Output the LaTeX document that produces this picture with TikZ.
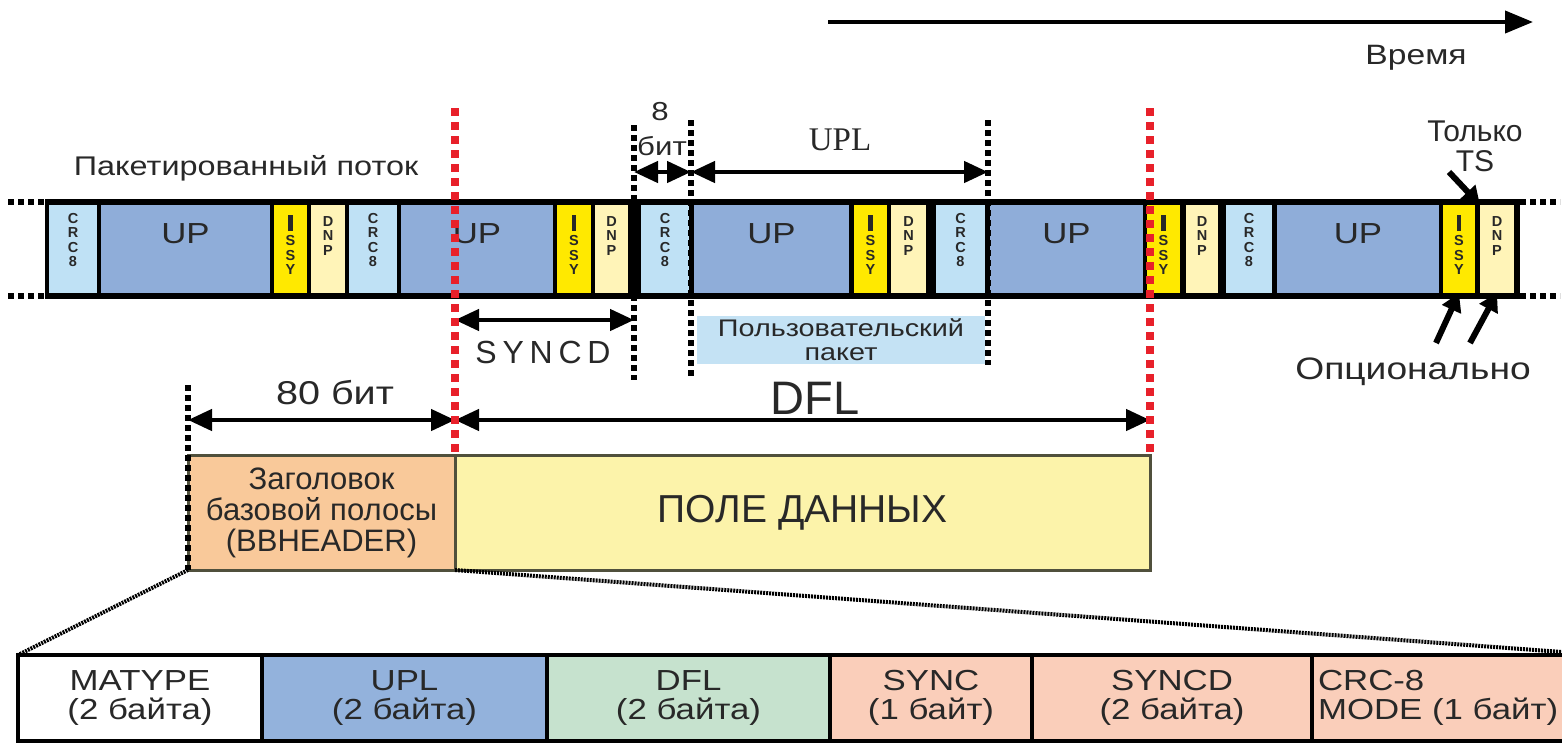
\documentclass[tikz,border=0pt]{standalone}
\usepackage{fontspec}
\setmainfont{Liberation Sans}
\newfontfamily\seriffont{Liberation Serif}
\newfontfamily\widesans[FakeStretch=1.2]{Liberation Sans}
\newfontfamily\spacedfont[LetterSpace=18]{Liberation Sans}
\usepackage{tikz}
\usetikzlibrary{arrows.meta,positioning}
\definecolor{crcblue}{RGB}{191,225,245}
\definecolor{upblue}{RGB}{143,173,217}
\definecolor{issyyel}{RGB}{255,233,0}
\definecolor{dnpyel}{RGB}{255,244,184}
\definecolor{pktred}{RGB}{232,32,42}
\definecolor{hdrorange}{RGB}{249,201,154}
\definecolor{fieldyel}{RGB}{252,243,170}
\definecolor{rowblue}{RGB}{147,178,220}
\definecolor{rowgreen}{RGB}{198,226,206}
\definecolor{rowsalmon}{RGB}{250,206,186}
\definecolor{userblue}{RGB}{196,226,244}
\definecolor{boxedge}{RGB}{80,80,60}
\definecolor{ink}{RGB}{40,40,40}
\newcommand{\sz}[1]{\fontsize{#1}{#1}\selectfont}

\tikzset{
  cell/.style={minimum height=88, inner sep=0, outer sep=0},
  stk/.style={font=\fontsize{14.5}{14.5}\selectfont\bfseries, align=center, inner sep=0, text=ink},
  uptxt/.style={font=\widesans\sz{29}, inner sep=0, text=ink},
  cellcrc/.style={cell, fill=crcblue, label={[stk, anchor=north, yshift=-8]north:{C\\R\\C\\8}}},
  cellup/.style={cell, fill=upblue, label={[uptxt, anchor=north, yshift=-18]north:UP}},
  cellissy/.style={cell, fill=issyyel, label={[stk, anchor=north, yshift=-10]north:{\rule{4.5pt}{16pt}\\S\\S\\Y}}},
  celldnp/.style={cell, fill=dnpyel, label={[stk, anchor=north, yshift=-11]north:{D\\N\\P}}},
  dimarr/.style={line width=4.5pt, {Triangle[length=24pt,width=21pt]}-{Triangle[length=24pt,width=21pt]}},
  ptr/.style={line width=6pt, -{Triangle[length=18pt,width=20pt]}},
  reddash/.style={draw=pktred, line width=8pt, dash pattern=on 8pt off 6pt},
  blkdot/.style={line width=6pt, dash pattern=on 6pt off 4pt},
  finedot/.style={line width=4pt, dash pattern=on 2pt off 1pt},
  lbl/.style={text=ink, inner sep=0},
  hdrbox/.style={draw=boxedge, line width=3pt, minimum height=115, inner sep=0, outer sep=0, align=center, text=ink},
  fieldbox/.style={draw=black, line width=4pt, minimum height=86, inner sep=0, outer sep=0, align=center, font=\widesans\sz{29}, text=ink},
}

\begin{document}
\begin{tikzpicture}[x=1pt, y=-1pt]
  \useasboundingbox (0,0) rectangle (1562,742);
  \clip (0,0) rectangle (1562,742);

  % time axis
  \coordinate (tstart) at (828,22);
  \coordinate (tend) at (1533,22);
  \draw[line width=4pt, -{Triangle[length=28pt,width=22pt]}] (tstart) -- (tend);
  \node[lbl, font=\widesans\sz{28}] (tlabel) at (1416,58) {Время};

  % packetized stream
  \node[fill=black, minimum width=1475, minimum height=100, inner sep=0, outer sep=0] (strm) at (782.5,249) {};
  \foreach \xa/\xb/\st [count=\i] in {49/97/cellcrc, 101/270/cellup, 274/307/cellissy, 311/345/celldnp,
      349/397/cellcrc, 401/553/cellup, 557/591/cellissy, 595/628/celldnp,
      641/689/cellcrc, 694/849/cellup, 854/887/cellissy, 891/926/celldnp,
      936/985/cellcrc, 990/1143/cellup, 1147/1180/cellissy, 1186/1218/celldnp,
      1226/1272/cellcrc, 1277/1439/cellup, 1443/1475/cellissy, 1480/1514/celldnp}
    \node[\st, minimum width=\xb-\xa] (s\i) at ({(\xa+\xb)/2},249) {};

  \coordinate (extlt) at (8,202);
  \coordinate (extlb) at (8,296);
  \coordinate (extrt) at (1560,202);
  \coordinate (extrb) at (1560,296);
  \draw[blkdot] (extlt) -- (extlt -| strm.west);
  \draw[blkdot] (extlb) -- (extlb -| strm.west);
  \draw[blkdot] (extrt -| strm.east) -- (extrt);
  \draw[blkdot] (extrb -| strm.east) -- (extrb);

  \node[lbl, font=\widesans\sz{27}] (pstream) at (246,168) {Пакетированный поток};

  % base band frame
  \node[hdrbox, fill=hdrorange, minimum width=267, font=\sz{31}] (bb) at (321.5,512.5) {Заголовок\\базовой полосы\\(BBHEADER)};
  \node[hdrbox, fill=fieldyel, minimum width=695, font=\sz{39}] (df) at (802.5,512.5) {ПОЛЕ ДАННЫХ};

  % guide lines
  \coordinate (v0a) at (188,385);
  \coordinate (v1a) at (634,125);
  \coordinate (v1b) at (634,380);
  \coordinate (v2a) at (691,120);
  \coordinate (v2b) at (691,378);
  \coordinate (v3a) at (988,120);
  \coordinate (v3b) at (988,365);
  \draw[blkdot] (v0a) -- (bb.south west);
  \draw[blkdot] (v1a) -- (v1b);
  \draw[blkdot] (v2a) -- (v2b);
  \draw[blkdot] (v3a) -- (v3b);

  % user packet
  \node[fill=userblue, minimum width=288, minimum height=48, inner sep=0, align=center, font=\widesans\sz{24}, text=ink] (upkt) at (841,340) {Пользовательский\\пакет};

  % dimensions
  \coordinate (h8l) at (634,172);
  \coordinate (h8r) at (691,172);
  \coordinate (hupl) at (988,172);
  \coordinate (sy1) at (455,320);
  \coordinate (sy2) at (634,320);
  \coordinate (h80l) at (188,420);
  \coordinate (h80r) at (455,420);
  \coordinate (hdfr) at (1150,420);
  \draw[dimarr] (h8l) -- (h8r);
  \draw[dimarr] (h8r) -- (hupl);
  \draw[dimarr] (sy1) -- (sy2);
  \draw[dimarr] (h80l) -- (h80r);
  \draw[dimarr] (h80r) -- (hdfr);

  \node[lbl, font=\widesans\sz{26}] (eight) at (660,112) {8};
  \node[lbl, font=\widesans\sz{26}] (bit8) at (662,146) {бит};
  \node[lbl, font=\seriffont\sz{33}] (upl) at (840,140) {UPL};
  \node[lbl, font=\spacedfont\sz{32}] (syncd) at (543,352) {SYNCD};
  \node[lbl, font=\widesans\sz{33}] (b80) at (335,393) {80 бит};
  \node[lbl, font=\sz{47}] (dfl) at (815,398) {DFL};

  % red frame borders
  \coordinate (r1top) at (455,108);
  \coordinate (r2top) at (1150,108);
  \draw[reddash] (r1top) -- (df.north west);
  \draw[reddash] (r2top) -- (df.north east);

  % notes on the right
  \node[lbl, font=\sz{30}, align=center] (onlyts) at (1475,146) {Только\\TS};
  \node[lbl, font=\widesans\sz{31}] (optl) at (1413,372) {Опционально};
  \coordinate (ts1) at (1449,172);
  \coordinate (op1) at (1436,343);
  \coordinate (op2) at (1470,343);
  \draw[ptr] (ts1) -- (s20.north west);
  \draw[ptr] (op1) -- (s19.south);
  \draw[ptr] (op2) -- (s20.south);

  % BBHEADER fields
  \foreach \xa/\xb/\cl/\tx [count=\i] in {18/262/white/{MATYPE\\(2 байта)}, 262/547/rowblue/{UPL\\(2 байта)},
      547/830/rowgreen/{DFL\\(2 байта)}, 830/1032/rowsalmon/{SYNC\\(1 байт)}, 1032/1312/rowsalmon/{SYNCD\\(2 байта)}}
    \node[fieldbox, fill=\cl, minimum width=\xb-\xa] (f\i) at ({(\xa+\xb)/2},698) {\tx};
  \node[fieldbox, fill=rowsalmon, minimum width=288, align=left, text width=276] (f6) at (1456,698) {CRC-8\\MODE (1 байт)};

  \coordinate (rightend) at (1562,652);
  \draw[finedot] (bb.south west) -- (f1.north west);
  \draw[finedot] (bb.south east) -- (rightend);
\end{tikzpicture}
\end{document}
